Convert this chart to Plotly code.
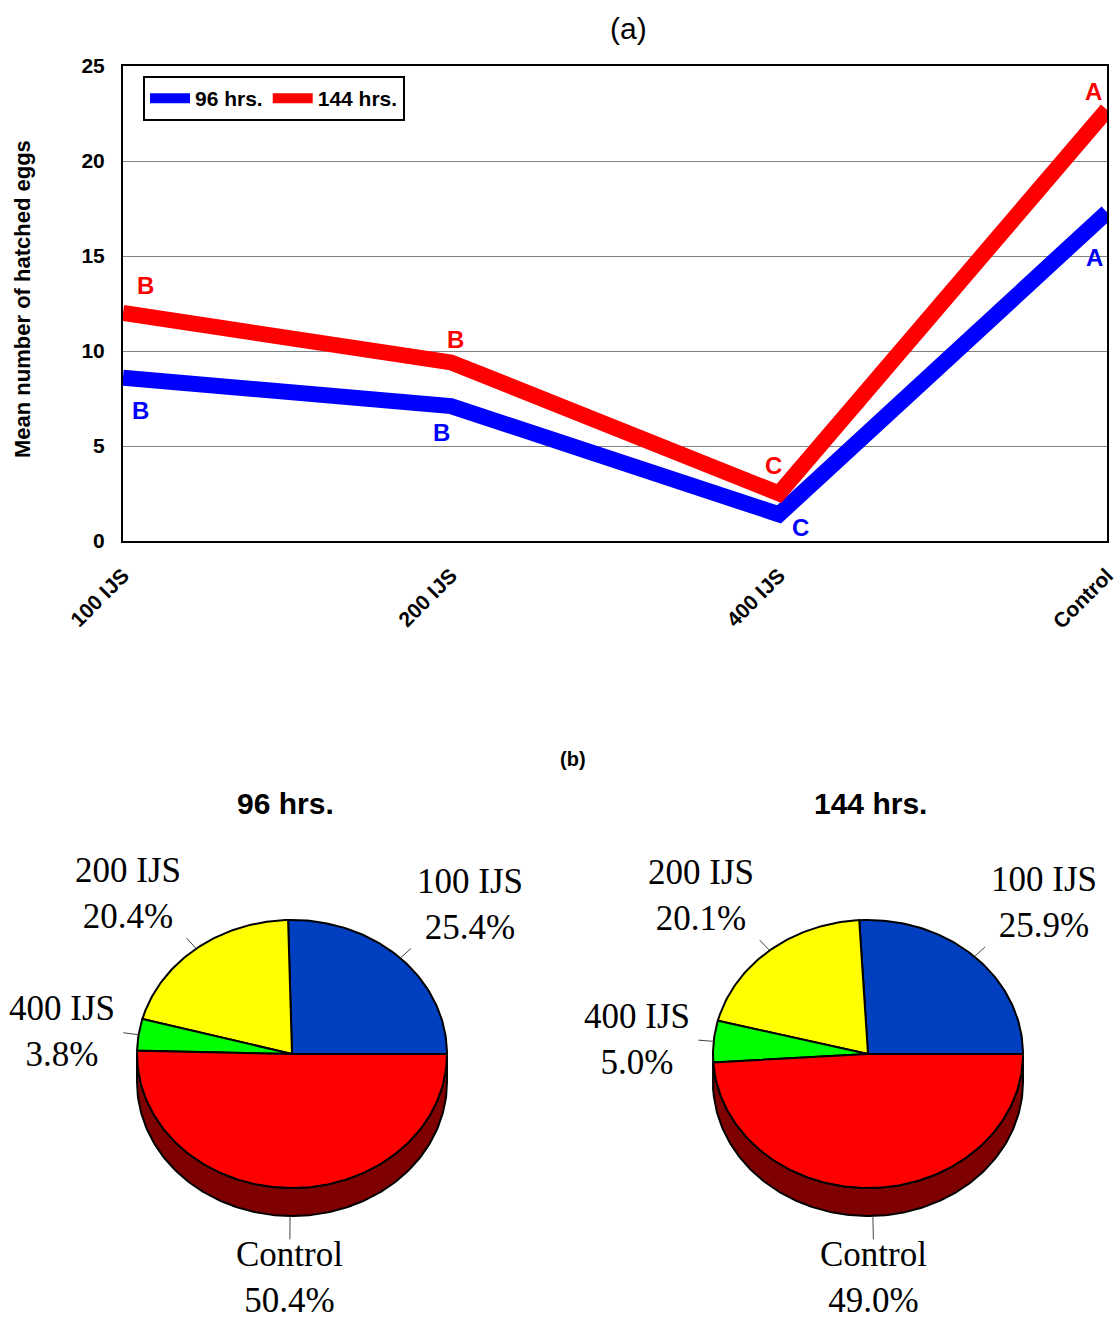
import numpy as np
import plotly.graph_objects as go

# ---------------- data ----------------
categories = ["100 IJS", "200 IJS", "400 IJS", "Control"]
hrs96 = [8.6, 7.1, 1.4, 17.3]
hrs144 = [12.0, 9.4, 2.5, 22.7]
letters96 = ["B", "B", "C", "A"]
letters144 = ["B", "B", "C", "A"]
series_names = ["96 hrs.", "144 hrs."]

pie_labels = ["100 IJS", "200 IJS", "400 IJS", "Control"]
pie96 = [25.4, 20.4, 3.8, 50.4]
pie144 = [25.9, 20.1, 5.0, 49.0]
pie_titles = ["96 hrs.", "144 hrs."]

# ---------------- style ----------------
W, H = 1119, 1323
BLUE, RED = "#0000FF", "#FF0000"
slice_colors = ["#0040C0", "#FFFF00", "#00FF00", "#FF0000"]
side_colors = ["#002070", "#808000", "#008000", "#7F0000"]
# letter offsets (px) per point: (xshift, yshift)
shift96 = [(17, -33), (-10, -26), (21, -13), (-13, -45)]
shift144 = [(22, 28), (4, 23), (-6, 28), (-14, 18)]

fig = go.Figure()
xs = list(range(len(categories)))

fig.add_trace(go.Scatter(x=xs, y=hrs96, mode="lines", name=series_names[0],
                         line=dict(color=BLUE, width=16), hoverinfo="skip"))
fig.add_trace(go.Scatter(x=xs, y=hrs144, mode="lines", name=series_names[1],
                         line=dict(color=RED, width=16), hoverinfo="skip"))

annotations = []
for vals, lets, shifts, col in [(hrs96, letters96, shift96, BLUE),
                                (hrs144, letters144, shift144, RED)]:
    for i, (v, l, s) in enumerate(zip(vals, lets, shifts)):
        annotations.append(dict(x=i, y=v, xref="x", yref="y", text=l, showarrow=False,
                                xanchor="center", yanchor="middle",
                                xshift=s[0], yshift=s[1],
                                font=dict(family="Arial", size=24, color=col, weight="bold")))

# ---------------- pies (tilted 3D look) ----------------
def ellipse_pts(cx, cy, a, b, t1, t2, dy=0.0):
    t = np.radians(np.linspace(t1, t2, max(3, int(abs(t2 - t1)) + 2)))
    return cx + a * np.cos(t), cy - b * np.sin(t) + dy


def draw_pie(values, labels, cx, cy, a, b, depth):
    total = sum(values)
    angles = np.concatenate([[0], np.cumsum(values) / total * 360.0])
    # sides first (front half: 180..360)
    for i in range(len(values)):
        s1, s2 = max(angles[i], 180.0), min(angles[i + 1], 360.0)
        if s2 > s1:
            tx, ty = ellipse_pts(cx, cy, a, b, s1, s2)
            bx, by = ellipse_pts(cx, cy, a, b, s2, s1, depth)
            fig.add_trace(go.Scatter(x=np.concatenate([tx, bx, tx[:1]]),
                                     y=np.concatenate([ty, by, ty[:1]]),
                                     xaxis="x2", yaxis="y2", mode="lines", fill="toself",
                                     fillcolor=side_colors[i], line=dict(color="black", width=2),
                                     showlegend=False, hoverinfo="skip"))
    # top faces
    for i in range(len(values)):
        tx, ty = ellipse_pts(cx, cy, a, b, angles[i], angles[i + 1])
        fig.add_trace(go.Scatter(x=np.concatenate([[cx], tx, [cx]]),
                                 y=np.concatenate([[cy], ty, [cy]]),
                                 xaxis="x2", yaxis="y2", mode="lines", fill="toself",
                                 fillcolor=slice_colors[i], line=dict(color="black", width=2),
                                 showlegend=False, hoverinfo="skip"))
    # leader lines and labels
    for i in range(len(values)):
        mid = np.radians((angles[i] + angles[i + 1]) / 2)
        c, s = np.cos(mid), np.sin(mid)
        extra = depth if s < 0 else 0
        x0, y0 = cx + a * c, cy - b * s + extra
        x1, y1 = cx + a * 1.1 * c, cy - b * 1.1 * s + extra + (10 if s < -0.9 else 0)
        fig.add_trace(go.Scatter(x=[x0, x1], y=[y0, y1], xaxis="x2", yaxis="y2", mode="lines",
                                 line=dict(color="#444444", width=1),
                                 showlegend=False, hoverinfo="skip"))
        lx, ly = cx + a * 1.15 * c, cy - b * 1.15 * s + extra
        if s > 0.3:
            ly += 4
        elif s < -0.3:
            ly -= 2
        xa = "left" if c > 0.3 else ("right" if c < -0.3 else "center")
        ya = "bottom" if s > 0.3 else ("top" if s < -0.3 else "middle")
        annotations.append(dict(x=lx, y=ly, xref="x2", yref="y2", xanchor=xa, yanchor=ya,
                                text=f"{labels[i]}<br>{values[i]:.1f}%", showarrow=False,
                                align="center", borderpad=0,
                                font=dict(family="Liberation Serif", size=35, color="black")))


draw_pie(pie96, pie_labels, 292, 1054, 155, 134, 28)
draw_pie(pie144, pie_labels, 868, 1054, 155, 134, 28)

def px(x):
    return x / W

def py(y):
    return 1 - y / H

def paper_text(x, y, text, size, weight="normal", angle=0):
    return dict(x=px(x), y=py(y), xref="paper", yref="paper", text=text, showarrow=False,
                xanchor="center", yanchor="middle", textangle=angle,
                font=dict(family="Arial", size=size, color="black", weight=weight))

annotations += [
    paper_text(628, 28, "(a)", 30),
    paper_text(573, 759, "(b)", 20, "bold"),
    paper_text(285, 803, pie_titles[0], 30, "bold"),
    paper_text(870, 803, pie_titles[1], 30, "bold"),
    paper_text(22, 299, "Mean number of hatched eggs", 22, "bold", -90),
]

fig.update_layout(
    width=W, height=H,
    margin=dict(l=0, r=0, t=0, b=0, autoexpand=False),
    paper_bgcolor="white", plot_bgcolor="white",
    showlegend=True,
    legend=dict(orientation="h", x=px(143), y=py(76), xanchor="left", yanchor="top",
                bgcolor="white", bordercolor="black", borderwidth=2,
                font=dict(family="Arial", size=21, color="black", weight="bold"),
                itemwidth=40, tracegroupgap=0),
    xaxis=dict(domain=[px(123), px(1107)], range=[0, 3], tickvals=xs, ticktext=categories,
               tickangle=-45, showgrid=False, zeroline=False, showline=True, mirror=True,
               linecolor="black", linewidth=2, ticks="", ticklabelstandoff=12, automargin=False,
               tickfont=dict(family="Arial", size=21, color="black", weight="bold"),
               fixedrange=True),
    yaxis=dict(domain=[py(541), py(66)], range=[0, 25], dtick=5, showgrid=True,
               gridcolor="#808080", gridwidth=1, zeroline=False, showline=True, mirror=True,
               linecolor="black", linewidth=2, ticks="", ticklabelstandoff=12, automargin=False,
               tickfont=dict(family="Arial", size=21, color="black", weight="bold"),
               fixedrange=True),
    xaxis2=dict(domain=[0, 1], range=[0, W], visible=False, fixedrange=True, automargin=False),
    yaxis2=dict(domain=[0, py(700)], range=[H, 700], visible=False, fixedrange=True,
                automargin=False),
    annotations=annotations,
)

fig.write_html("out.html", config={"displayModeBar": False},
               post_script="document.body.style.margin='0';")
